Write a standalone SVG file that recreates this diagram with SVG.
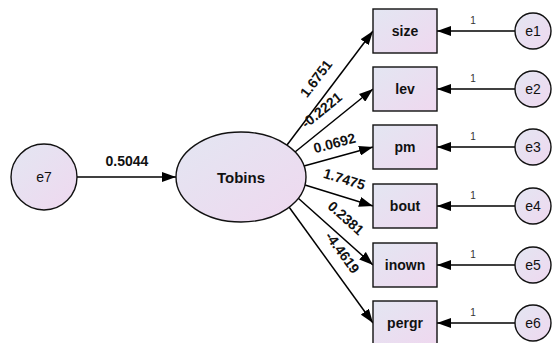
<svg xmlns="http://www.w3.org/2000/svg" width="552" height="343" viewBox="0 0 552 343">
<defs>
<linearGradient id="g" x1="0" y1="0" x2="1" y2="1">
<stop offset="0" stop-color="#e3e6f2"/>
<stop offset="1" stop-color="#efd8ef"/>
</linearGradient>
<marker id="ah" markerWidth="14" markerHeight="10" refX="14" refY="5" orient="auto" markerUnits="userSpaceOnUse">
<path d="M0,0 L14,5 L0,10 Z" fill="#000"/>
</marker>
<style>
.n{fill:url(#g);stroke:#111;stroke-width:1.4}
.t{font-family:"Liberation Sans",Arial,sans-serif;font-size:14px;fill:#111;text-anchor:middle;dominant-baseline:central}
.b{font-weight:bold}
.c{stroke:#000;stroke-width:1.5;fill:none;marker-end:url(#ah)}
.w{font-family:"Liberation Sans",Arial,sans-serif;font-size:14px;font-weight:bold;fill:#111;text-anchor:middle;dominant-baseline:central}
.o{font-family:"Liberation Sans",Arial,sans-serif;font-size:10px;fill:#333;text-anchor:middle}
</style>
</defs>
<rect width="552" height="343" fill="#fff"/>
<g id="connectors">
<line class="c" x1="77" y1="177" x2="176" y2="177"/>
<line class="c" x1="287" y1="145" x2="373" y2="31"/>
<line class="c" x1="295" y1="152" x2="373" y2="89"/>
<line class="c" x1="304" y1="166" x2="373" y2="147"/>
<line class="c" x1="305" y1="185" x2="373" y2="206"/>
<line class="c" x1="298" y1="198" x2="373" y2="265"/>
<line class="c" x1="289" y1="207" x2="373" y2="323"/>
<line class="c" x1="515" y1="31" x2="437" y2="31"/>
<line class="c" x1="515" y1="89" x2="437" y2="89"/>
<line class="c" x1="515" y1="147" x2="437" y2="147"/>
<line class="c" x1="515" y1="206" x2="437" y2="206"/>
<line class="c" x1="515" y1="265" x2="437" y2="265"/>
<line class="c" x1="515" y1="323" x2="437" y2="323"/>
<text class="w" x="127" y="161">0.5044</text>
<text class="w" transform="translate(316,78.5) rotate(-53)">1.6751</text>
<text class="w" transform="translate(321.5,110) rotate(-39)">-0.2221</text>
<text class="w" transform="translate(334.5,143) rotate(-15)">0.0692</text>
<text class="w" transform="translate(344.5,179) rotate(17)">1.7475</text>
<text class="w" transform="translate(346,218) rotate(42)">0.2381</text>
<text class="w" transform="translate(342.5,252.5) rotate(54)">-4.4619</text>
<text class="o" x="473" y="24">1</text>
<text class="o" x="473" y="82">1</text>
<text class="o" x="473" y="140">1</text>
<text class="o" x="473" y="199">1</text>
<text class="o" x="473" y="258">1</text>
<text class="o" x="473" y="316">1</text>
</g>
<g id="e7"><circle class="n" cx="44" cy="177" r="33"/><text class="t" x="44" y="177">e7</text></g>
<g id="Tobins"><ellipse class="n" cx="241" cy="177" rx="65" ry="45"/><text class="t b" x="241" y="177" style="font-size:15px">Tobins</text></g>
<g id="size"><rect class="n" x="373" y="9" width="64" height="44"/><text class="t b" x="405" y="31">size</text></g>
<g id="lev"><rect class="n" x="373" y="67" width="64" height="44"/><text class="t b" x="405" y="89">lev</text></g>
<g id="pm"><rect class="n" x="373" y="125" width="64" height="44"/><text class="t b" x="405" y="147">pm</text></g>
<g id="bout"><rect class="n" x="373" y="184" width="64" height="44"/><text class="t b" x="405" y="206">bout</text></g>
<g id="inown"><rect class="n" x="373" y="243" width="64" height="44"/><text class="t b" x="405" y="265">inown</text></g>
<g id="pergr"><rect class="n" x="373" y="301" width="64" height="44"/><text class="t b" x="405" y="323">pergr</text></g>
<g id="e1"><circle class="n" cx="533" cy="31" r="18"/><text class="t" x="533" y="31">e1</text></g>
<g id="e2"><circle class="n" cx="533" cy="89" r="18"/><text class="t" x="533" y="89">e2</text></g>
<g id="e3"><circle class="n" cx="533" cy="147" r="18"/><text class="t" x="533" y="147">e3</text></g>
<g id="e4"><circle class="n" cx="533" cy="206" r="18"/><text class="t" x="533" y="206">e4</text></g>
<g id="e5"><circle class="n" cx="533" cy="265" r="18"/><text class="t" x="533" y="265">e5</text></g>
<g id="e6"><circle class="n" cx="533" cy="323" r="18"/><text class="t" x="533" y="323">e6</text></g>
</svg>
